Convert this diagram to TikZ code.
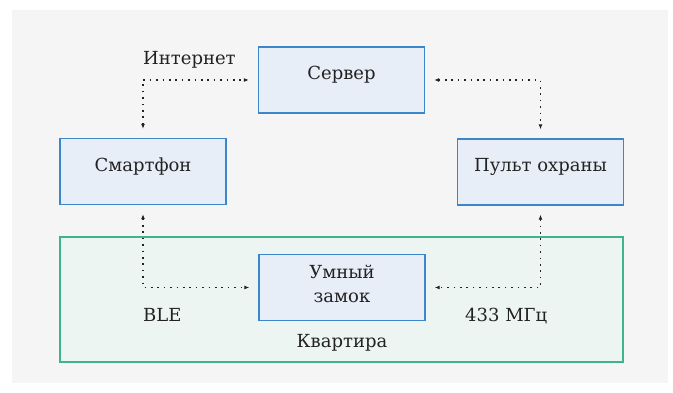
\documentclass[tikz,border=0pt]{standalone}
\usepackage{fontspec}
\setmainfont{DejaVu Serif}
\usetikzlibrary{arrows.meta}
\definecolor{pagebg}{HTML}{F5F5F5}
\definecolor{boxfill}{HTML}{E8EEF8}
\definecolor{boxline}{HTML}{3C87CB}
\definecolor{zonefill}{HTML}{EDF5F2}
\definecolor{zoneline}{HTML}{3DB489}
\definecolor{ink}{HTML}{222222}
\tikzset{
  device/.style={draw=boxline, fill=boxfill, line width=1.3pt, minimum width=166pt, minimum height=66pt, inner sep=0pt},
  caption/.style={text=ink, font=\fontsize{18}{24}\selectfont, inner sep=0pt, align=center},
  link/.style={draw=ink, line width=1.1pt, dash pattern=on 1.6pt off 4.8pt, {Latex[length=5pt,width=4pt]}-{Latex[length=5pt,width=4pt]}, shorten <=9pt, shorten >=9pt}
}
\begin{document}
\begin{tikzpicture}[x=1pt, y=-1pt]
  \useasboundingbox (0,0) rectangle (673,393);
  \fill[pagebg] (12,10) rectangle (668,383);
  % apartment zone
  \node[draw=zoneline, fill=zonefill, line width=1.1pt, minimum width=563pt, minimum height=125pt, inner sep=0pt] (zone) at (341.5,299.5) {};
  % devices
  \node[device] (server) at (341.5,80) {};
  \node[device] (phone) at (143,171.5) {};
  \node[device] (panel) at (540.5,172) {};
  \node[device] (lock) at (342,287.5) {};
  % device captions
  \node[caption, anchor=base] (tserver) at (341.5,80) {Сервер};
  \node[caption, anchor=base] (tphone) at (143,172) {Смартфон};
  \node[caption, anchor=base] (tpanel) at (540.5,172) {Пульт охраны};
  \node[caption, anchor=base] (tlock) at (342,302) {Умный\\замок};
  % link labels
  \node[caption, anchor=base west] (tnet) at (143,65) {Интернет};
  \node[caption, anchor=base west] (tble) at (143,321) {BLE};
  \node[caption, anchor=base west] (tradio) at (465,321) {433 МГц};
  \node[caption, anchor=base] (tzone) at (342,347) {Квартира};
  % links
  \draw[link] (phone.north) |- (server.west);
  \draw[link] (server.east) -| (panel.north);
  \draw[link] (phone.south) |- (lock.west);
  \draw[link] (panel.south) |- (lock.east);
\end{tikzpicture}
\end{document}
